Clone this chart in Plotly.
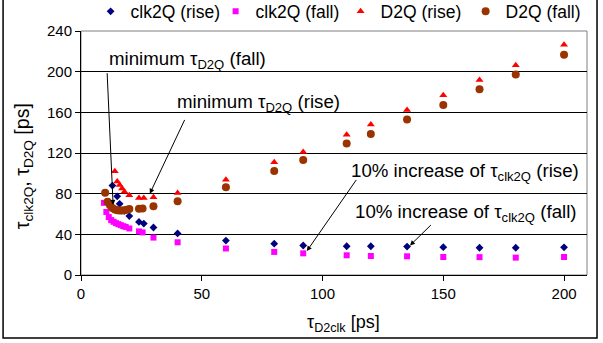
import plotly.graph_objects as go

# --- data ---
clk_rise_x = [13, 15, 16, 18, 20, 24, 26, 30, 40, 60, 80, 92, 110, 120, 135, 150, 165, 180, 200]
clk_rise_y = [88, 77.4, 70, 63, 58, 52.2, 50.6, 46.7, 40.9, 33.9, 30.8, 29, 28.3, 28.3, 28, 27.4, 26.8, 26.8, 27.2]

clk_fall_x = [9.5, 10.5, 11.5, 12.5, 13.5, 14.5, 15.5, 16.5, 17.5, 18.5, 20, 24, 25.5, 30, 40, 60, 80, 92, 110, 120, 135, 150, 165, 180, 200]
clk_fall_y = [71, 62, 57, 54, 52.3, 51, 50, 49, 48, 47.3, 45.8, 42.9, 41.9, 36.8, 32.2, 26.1, 22.7, 21.3, 19.4, 18.7, 18.4, 17.7, 17.6, 17.1, 17.7]

d2q_rise_x = [14, 15, 16, 17, 18, 20, 24, 26, 30, 40, 60, 80, 92, 110, 120, 135, 150, 165, 180, 200]
d2q_rise_y = [102, 92, 88.5, 85, 82, 78.5, 75.8, 75.8, 76.4, 80.6, 93.6, 110.8, 121, 138, 148, 162.3, 176.9, 191.9, 206.4, 226.4]

d2q_fall_x = [10, 11, 12, 13, 14, 15, 16, 17, 18, 19, 20, 24, 25.5, 30, 40, 60, 80, 92, 110, 120, 135, 150, 165, 180, 200]
d2q_fall_y = [81, 72, 68.5, 66, 64.5, 63.8, 63.5, 63.5, 63.8, 64.3, 65, 65.1, 65.5, 67.7, 72.6, 86.4, 102.4, 113.2, 129.4, 138.7, 152.9, 167.2, 182.6, 197.1, 216.7]

x_ticks = [0, 50, 100, 150, 200]
y_ticks = [0, 40, 80, 120, 160, 200, 240]

x_title = "τ<sub>D2clk</sub> [ps]"
y_title = "τ<sub>clk2Q</sub>, τ<sub>D2Q</sub> [ps]"

FONT = "Arial, Liberation Sans, sans-serif"

fig = go.Figure()
fig.add_trace(go.Scatter(x=clk_rise_x, y=clk_rise_y, mode="markers", name="clk2Q (rise)",
                         marker=dict(symbol="diamond", size=6, color="#000080")))
fig.add_trace(go.Scatter(x=clk_fall_x, y=clk_fall_y, mode="markers", name="clk2Q (fall)",
                         marker=dict(symbol="square", size=6, color="#FF00FF")))
fig.add_trace(go.Scatter(x=d2q_rise_x, y=d2q_rise_y, mode="markers", name="D2Q (rise)",
                         marker=dict(symbol="triangle-up", size=7, color="#FF0000")))
fig.add_trace(go.Scatter(x=d2q_fall_x, y=d2q_fall_y, mode="markers", name="D2Q (fall)",
                         marker=dict(symbol="circle", size=8, color="#993300")))

ann_font = dict(family=FONT, size=18.7, color="black")
annotations = [
    # arrows (head at data point, tail in data coords)
    dict(x=13.3, y=69, ax=10.8, ay=200, axref="x", ayref="y", xref="x", yref="y",
         showarrow=True, arrowhead=2, arrowsize=1, arrowwidth=1, arrowcolor="black", text=""),
    dict(x=28.5, y=80, ax=43.2, ay=154, axref="x", ayref="y", xref="x", yref="y",
         showarrow=True, arrowhead=2, arrowsize=1, arrowwidth=1, arrowcolor="black", text=""),
    dict(x=93.5, y=23.5, ax=114.4, ay=95, axref="x", ayref="y", xref="x", yref="y",
         showarrow=True, arrowhead=2, arrowsize=1, arrowwidth=1, arrowcolor="black", text=""),
    dict(x=136.2, y=29, ax=145.5, ay=50.6, axref="x", ayref="y", xref="x", yref="y",
         showarrow=True, arrowhead=2, arrowsize=1, arrowwidth=1, arrowcolor="black", text=""),
    # texts
    dict(x=10.6, y=211, xref="x", yref="y", xanchor="left", yanchor="middle", showarrow=False,
         text="minimum τ<sub>D2Q</sub> (fall)", font=ann_font),
    dict(x=38.9, y=169, xref="x", yref="y", xanchor="left", yanchor="middle", showarrow=False,
         text="minimum τ<sub>D2Q</sub> (rise)", font=ann_font),
    dict(x=110.8, y=101.5, xref="x", yref="y", xanchor="left", yanchor="middle", showarrow=False,
         text="10% increase of τ<sub>clk2Q</sub> (rise)", font=ann_font),
    dict(x=112.6, y=61, xref="x", yref="y", xanchor="left", yanchor="middle", showarrow=False,
         text="10% increase of τ<sub>clk2Q</sub> (fall)", font=ann_font),
    # axis titles
    dict(x=0.518, y=-0.197, xref="paper", yref="paper", xanchor="center", yanchor="middle",
         showarrow=False, text=x_title, font=dict(family=FONT, size=18, color="black")),
    dict(x=-0.113, y=0.445, xref="paper", yref="paper", xanchor="center", yanchor="middle",
         showarrow=False, textangle=-90, text=y_title, font=dict(family=FONT, size=19.5, color="black")),
]

shapes = [
    # plot-area border (grey)
    dict(type="rect", xref="paper", yref="paper", x0=0, y0=0, x1=1, y1=1,
         line=dict(color="#808080", width=1), layer="below"),
    # outer chart frame
    dict(type="rect", xref="paper", yref="paper", x0=-0.154, y0=-0.258, x1=1.0198, y1=1.2,
         line=dict(color="black", width=1.5)),
]

fig.update_layout(
    width=603, height=343,
    margin=dict(l=81, r=16, t=31, b=68, autoexpand=False),
    paper_bgcolor="white", plot_bgcolor="white",
    font=dict(family=FONT, size=15, color="black"),
    showlegend=True,
    legend=dict(orientation="h", x=0.019, xanchor="left", y=1.08, yanchor="middle",
                font=dict(family=FONT, size=17.5), itemwidth=30, tracegroupgap=0,
                entrywidth=80, entrywidthmode="pixels",
                bgcolor="rgba(0,0,0,0)"),
    annotations=annotations,
    shapes=shapes,
)

fig.update_xaxes(range=[0, 209.5], tickvals=x_ticks, ticktext=[str(v) for v in x_ticks],
                 showgrid=False, zeroline=False, showline=True, linecolor="black", linewidth=1,
                 ticks="outside", ticklen=5, tickcolor="black", tickfont=dict(size=15))
fig.update_yaxes(range=[0, 240], tickvals=y_ticks, ticktext=[str(v) for v in y_ticks],
                 showgrid=True, gridcolor="black", gridwidth=1, zeroline=False,
                 showline=True, linecolor="black", linewidth=1,
                 ticks="outside", ticklen=5, tickcolor="black", tickfont=dict(size=15))

fig.write_html("out.html", config={"displayModeBar": False},
               post_script="document.body.style.margin='0';")
